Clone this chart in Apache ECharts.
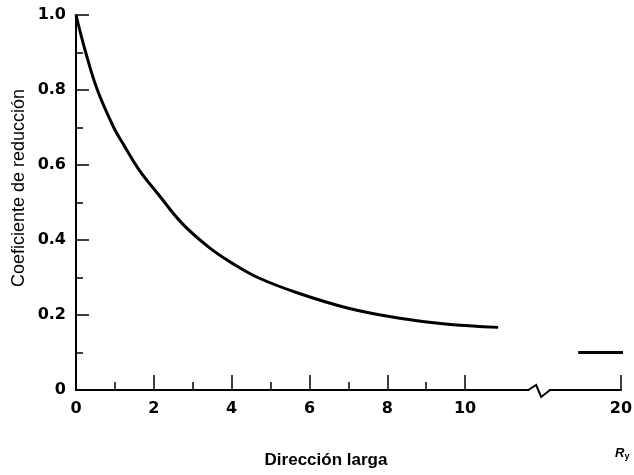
<!DOCTYPE html>
<html><head><meta charset="utf-8">
<script src="https://cdn.jsdelivr.net/npm/echarts@6/dist/echarts.min.js"></script>
<style>html,body{margin:0;padding:0;background:#fff}#c{width:634px;height:475px}</style>
</head><body><div id="c"></div>
<script>
// Main reduction-coefficient curve (Dirección larga)
const curveX = [0, 0.25, 0.55, 0.97, 1.23, 1.62, 2.13, 2.72, 3.41, 4.0, 4.67, 5.72, 7.0, 8.28, 9.49, 10.85];
const curveY = [1.0, 0.9, 0.8, 0.7, 0.653, 0.587, 0.52, 0.445, 0.381, 0.339, 0.30, 0.258, 0.218, 0.192, 0.176, 0.167];
// Asymptotic segment beyond the axis break
const tailX = [18.9, 20.3];
const tailY = [0.1, 0.1];
// Tick labels
const xLabelValues = [0, 2, 4, 6, 8, 10, 20];
const yTickValues = [0, 0.2, 0.4, 0.6, 0.8, 1.0];
const yTickLabels = ['0', '0.2', '0.4', '0.6', '0.8', '1.0'];
// Axis break
const breakStart = 11.7, breakEnd = 18.1;

const FONT = 'Liberation Sans';
const LFONT = 'DejaVu Sans';
const chart = echarts.init(document.getElementById('c'), null, {renderer: 'canvas'});
chart.setOption({
  animation: false,
  backgroundColor: '#fff',
  grid: {left: 76, right: 13, top: 15, bottom: 85, containLabel: false, outerBoundsMode: 'none'},
  xAxis: {
    type: 'value', min: 0, max: 20, interval: 2,
    breaks: [{start: breakStart, end: breakEnd, gap: '2.9%'}],
    breakArea: {show: true, itemStyle: {color: '#fff', borderColor: 'transparent', borderWidth: 0, opacity: 1}, zigzagAmplitude: 0},
    axisLine: {show: true, onZero: false, lineStyle: {color: '#000', width: 2}},
    axisTick: {show: true, inside: true, length: 15, lineStyle: {color: '#000', width: 1.5}},
    minorTick: {show: true, splitNumber: 2, length: 8, lineStyle: {color: '#000', width: 1.5}},
    splitLine: {show: false},
    minorSplitLine: {show: false},
    axisLabel: {
      margin: 11, fontWeight: 'bold', fontSize: 16, color: '#000', fontFamily: LFONT,
      formatter: v => xLabelValues.some(t => Math.abs(t - v) < 1e-9) ? String(v) : ''
    }
  },
  yAxis: {
    type: 'value', min: 0, max: 1, interval: 0.2,
    axisLine: {show: true, lineStyle: {color: '#000', width: 2}},
    axisTick: {show: true, inside: true, length: 13, lineStyle: {color: '#000', width: 1.5}},
    minorTick: {show: true, splitNumber: 2, length: 7, lineStyle: {color: '#000', width: 1.5}},
    splitLine: {show: false},
    axisLabel: {
      margin: 10, fontWeight: 'bold', fontSize: 16, color: '#000', fontFamily: LFONT,
      formatter: v => { const i = yTickValues.findIndex(t => Math.abs(t - v) < 1e-9); return i >= 0 ? yTickLabels[i] : ''; }
    }
  },
  series: [
    {type: 'line', data: curveX.map((x, i) => [x, curveY[i]]), smooth: 0.4, symbol: 'none',
     lineStyle: {color: '#000', width: 3}},
    {type: 'line', data: tailX.map((x, i) => [x, tailY[i]]), symbol: 'none', clip: false,
     lineStyle: {color: '#000', width: 3}}
  ]
});

const p1 = chart.convertToPixel({xAxisIndex: 0}, breakStart);
const p2 = chart.convertToPixel({xAxisIndex: 0}, breakEnd);
const y0 = chart.convertToPixel({yAxisIndex: 0}, 0);
const mid = (p1 + p2) / 2;
chart.setOption({
  graphic: [
    {type: 'rect', shape: {x: p1 - 2, y: y0 - 17, width: p2 - p1 + 4, height: 20}, style: {fill: '#fff'}, z: 100},
    {type: 'polyline', shape: {points: [[p1 - 3, y0], [mid - 3, y0 - 5], [mid + 2, y0 + 7], [p2 + 3, y0]]},
     style: {stroke: '#000', lineWidth: 2, fill: null}, z: 101},
    {type: 'text', x: 19, y: 188, rotation: Math.PI / 2, style: {text: 'Coeficiente de reducción', font: '18px "Liberation Sans"', fill: '#000', align: 'center', verticalAlign: 'middle'}},
    {type: 'text', x: 326, y: 460, style: {text: 'Dirección larga', font: 'bold 17px "Liberation Sans"', fill: '#000', align: 'center', verticalAlign: 'middle'}},
    {type: 'text', x: 615, y: 453, style: {
      text: '{r|R}{s|y}', verticalAlign: 'middle', align: 'left',
      rich: {r: {fontStyle: 'italic', fontWeight: 'bold', fontSize: 13, fontFamily: FONT, fill: '#000'},
             s: {fontWeight: 'bold', fontSize: 9, fontFamily: FONT, fill: '#000', padding: [7, 0, 0, 0]}}
    }}
  ]
});
</script></body></html>
